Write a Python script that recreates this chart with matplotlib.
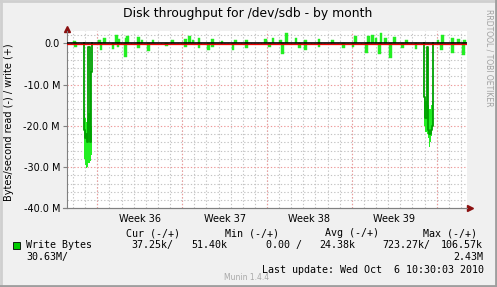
import numpy as np
import matplotlib.pyplot as plt
from matplotlib.patches import Rectangle
from matplotlib.lines import Line2D
from matplotlib.ticker import FixedLocator, FuncFormatter

W, H = 497, 287

# x values are days since the left edge of the graph, y values in MB/s
week_starts = [2.5, 9.5, 16.5, 23.5, 30.5]
week_labels = ['Week 36', 'Week 37', 'Week 38', 'Week 39']

# small write spikes (positive)
write_days = [0.6, 2.7, 3.1, 4.1, 4.3, 4.9, 5.0, 5.9, 6.2, 7.1, 8.7, 9.8, 10.1, 10.4,
              10.9, 12.0, 12.8, 13.9, 14.8, 16.4, 17.0, 17.6, 18.1, 18.9, 19.7, 20.8,
              21.9, 23.8, 24.9, 25.2, 25.5, 25.9, 26.3, 27.0, 28.0, 30.6, 31.0, 31.8, 32.3, 32.8]
write_mb = [0.6, 0.8, 1.2, 2.0, 1.0, 1.4, 1.9, 1.5, 0.9, 0.8, 0.7, 1.1, 1.8, 0.8,
            1.2, 1.0, 0.5, 0.7, 0.8, 1.0, 1.4, 0.7, 2.4, 1.2, 0.8, 1.1,
            0.9, 1.7, 1.9, 2.0, 1.3, 2.4, 1.2, 1.5, 0.8, 0.7, 2.1, 1.2, 1.1, 0.9]

# small read spikes (drawn negative)
read_days = [0.7, 2.8, 3.8, 4.2, 4.8, 5.9, 6.7, 8.2, 9.8, 10.9, 11.7, 12.0, 13.7,
             14.8, 16.7, 17.8, 19.2, 19.7, 20.8, 22.8, 23.6, 24.7, 25.8, 26.7, 27.7,
             28.8, 30.9, 31.8, 32.7]
read_mb = [0.8, 1.5, 1.4, 0.9, 3.2, 1.1, 1.8, 0.7, 0.9, 1.2, 1.6, 0.8, 1.5,
           1.2, 0.8, 2.6, 1.1, 1.7, 0.9, 1.2, 1.0, 2.4, 2.5, 3.6, 1.2,
           1.4, 1.5, 2.3, 2.8]

# the two long read bursts: average line
burst1_days = [1.37, 1.40, 1.44, 1.50, 1.58, 1.66, 1.72, 1.76, 1.86, 1.94, 2.02, 2.07]
burst1_mb = [0, 13, 21, 23, 22, 24, 21, 1, 24, 23, 7, 0]
burst2_days = [29.42, 29.46, 29.50, 29.66, 29.77, 29.90, 30.00, 30.10, 30.16, 30.21]
burst2_mb = [0, 13, 18, 1, 21, 22, 21, 20, 14, 0]

# bursts: spread between fastest and slowest samples
band1_days = [1.42, 1.50, 1.58, 1.66, 1.76, 1.86, 1.94, 2.04]
band1_top = [16, 18, 19, 18, 17, 19, 20, 20]
band1_bot = [28, 29.5, 30.3, 30, 29, 28.5, 27, 27]
band2_days = [29.48, 29.56, 29.66, 29.77, 29.88, 29.96, 30.05, 30.14, 30.22]
band2_top = [13, 14, 15, 15, 16, 16, 15, 14, 14]
band2_bot = [20, 21.5, 22, 23, 25.2, 24, 22.5, 20, 20]

bright = '#22ee22'
dark = '#00a000'
grid_c = '#c4c4c4'
major_c = '#ee9a9a'

fig = plt.figure(figsize=(W / 100, H / 100), dpi=100, facecolor='#f0f0f0')
ax = fig.add_axes([67 / W, 1 - 208.3 / H, 400 / W, (208.3 - 31) / H])
ax.set_facecolor('white')

# grid
ax.set_xlim(0, 33)
ax.set_ylim(-40, 3)
dots = (0, (1.2, 1.8))
for d in np.arange(0.5, 33, 1.0):
    ax.axvline(d, color=grid_c, lw=0.8, ls=dots, zorder=0)
for d in week_starts:
    ax.axvline(d, color=major_c, lw=0.8, ls=dots, zorder=0)
for v in np.arange(-38, 3, 2):
    c = major_c if v % 10 == 0 else grid_c
    ax.axhline(v, color=c, lw=0.8, ls=dots, zorder=0)

# data
ax.bar(write_days, write_mb, width=0.22, color=bright, edgecolor=bright, lw=0.3, zorder=2)
ax.bar(read_days, [-v for v in read_mb], width=0.22, color=bright, edgecolor=bright, lw=0.3, zorder=2)
ax.fill_between(band1_days, [-v for v in band1_top], [-v for v in band1_bot],
                step='post', color=bright, lw=0, zorder=2)
ax.fill_between(band2_days, [-v for v in band2_top], [-v for v in band2_bot],
                step='post', color=bright, lw=0, zorder=2)
ax.step(burst1_days, [-v for v in burst1_mb], where='post', color=dark, lw=1.3, zorder=3)
ax.step(burst2_days, [-v for v in burst2_mb], where='post', color=dark, lw=1.3, zorder=3)

# zero line
ax.axhline(0.1, color='black', lw=1.2, zorder=4)
ax.axhline(-0.25, color='#ee0000', lw=0.9, zorder=4)

# axes
for s in ['top', 'right']:
    ax.spines[s].set_visible(False)
for s in ['left', 'bottom']:
    ax.spines[s].set_color('#808080')
    ax.spines[s].set_linewidth(0.8)
ax.plot([-0.01, 1.0], [0, 0], transform=ax.transAxes, clip_on=False, color='#808080', lw=0.8)
ax.plot([0], [1.01], marker='^', ms=4, color='#8b1010', transform=ax.transAxes, clip_on=False)
ax.plot([1.008], [0], marker='>', ms=4, color='#8b1010', transform=ax.transAxes, clip_on=False)

ax.yaxis.set_major_locator(FixedLocator([0, -10, -20, -30, -40]))
ax.yaxis.set_major_formatter(FuncFormatter(lambda v, p: '0.0' if v == 0 else f'{v:.1f} M'))
ax.set_xticks([w + 3.5 for w in week_starts[:4]])
ax.set_xticklabels(week_labels)
ax.tick_params(axis='y', length=3, width=0.8, color='#808080', labelsize=7, pad=2)
ax.tick_params(axis='x', length=0, labelsize=7, pad=4)

def px(x, y):
    return x / W, 1 - y / H

fig.text(*px(248, 14), 'Disk throughput for /dev/sdb - by month', ha='center', va='center', fontsize=8.9)
fig.text(*px(9, 122), 'Bytes/second read (-) / write (+)', rotation=90, ha='center', va='center', fontsize=7)
fig.text(*px(489, 58), 'RRDTOOL / TOBI OETIKER', rotation=270, ha='center', va='center',
         fontsize=5.5, color='#a0a0a0')

mono = dict(family='DejaVu Sans Mono', fontsize=7.2, va='center')
fig.text(*px(126, 233), 'Cur (-/+)', **mono)
fig.text(*px(225, 233), 'Min (-/+)', **mono)
fig.text(*px(325, 233), 'Avg (-/+)', **mono)
fig.text(*px(423, 233), 'Max (-/+)', **mono)
fig.text(*px(26, 245), 'Write Bytes', **mono)
fig.text(*px(131, 245), '37.25k/', **mono)
fig.text(*px(191, 245), '51.40k', **mono)
fig.text(*px(266, 245), '0.00 /', **mono)
fig.text(*px(319, 245), '24.38k', **mono)
fig.text(*px(382, 245), '723.27k/', **mono)
fig.text(*px(483, 245), '106.57k', ha='right', **mono)
fig.text(*px(26, 257), '30.63M/', **mono)
fig.text(*px(483, 257), '2.43M', ha='right', **mono)
fig.text(*px(224, 277), 'Munin 1.4.4', fontsize=5.5, color='#a8a8a8', va='center')
fig.text(*px(484, 270), 'Last update: Wed Oct  6 10:30:03 2010', ha='right', **mono)

fig.patches.append(Rectangle(px(13, 249), 7 / W, 7 / H, transform=fig.transFigure,
                             facecolor='#00cc00', edgecolor='black', lw=0.6))

# frame shading
fig.lines.append(Line2D([0, 1], [1 - 1 / H] * 2, transform=fig.transFigure, color='#cfcfcf', lw=2))
fig.lines.append(Line2D([1 / W] * 2, [0, 1], transform=fig.transFigure, color='#cfcfcf', lw=2))
fig.lines.append(Line2D([0, 1], [1 / H] * 2, transform=fig.transFigure, color='#9e9e9e', lw=2))
fig.lines.append(Line2D([1 - 1 / W] * 2, [0, 1], transform=fig.transFigure, color='#9e9e9e', lw=2))

fig.savefig('out.png', dpi=100, facecolor=fig.get_facecolor())
